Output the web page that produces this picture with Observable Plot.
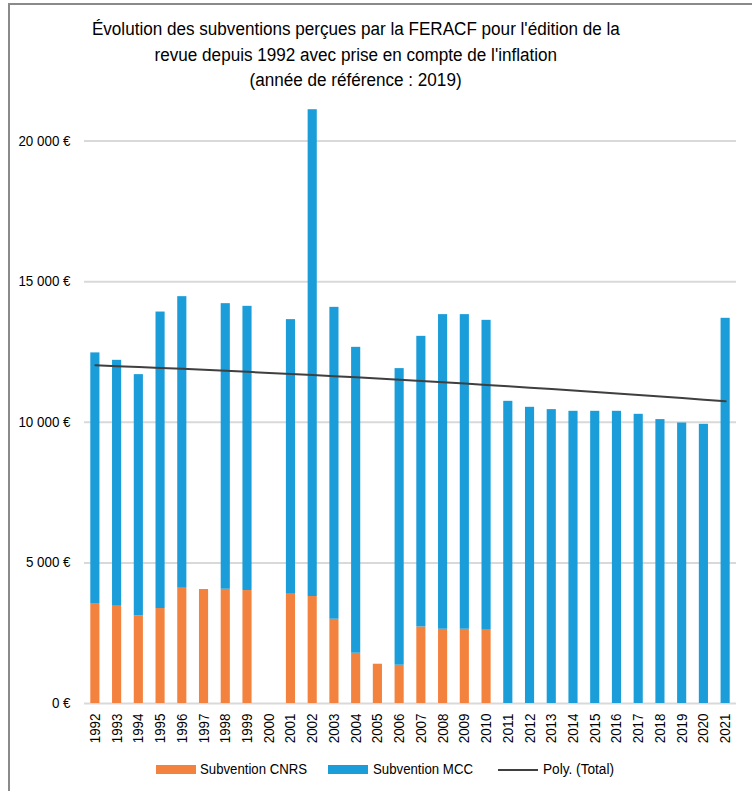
<!DOCTYPE html>
<html><head><meta charset="utf-8">
<script src="https://cdn.jsdelivr.net/npm/d3@7"></script>
<script src="https://cdn.jsdelivr.net/npm/@observablehq/plot@0.6"></script>
<style>
body{margin:0;background:#fff;}
#wrap{position:relative;width:752px;height:791px;overflow:hidden;font-family:"Liberation Sans",Arial,sans-serif;color:#000;}
#chart{position:absolute;left:0;top:0;}
#frame{position:absolute;left:8px;top:3px;width:800px;height:800px;border-top:2px solid #8a8a8a;border-left:2px solid #8a8a8a;pointer-events:none;}
#title{position:absolute;left:0;width:712px;top:17px;text-align:center;font-size:18px;line-height:25.5px;}
#title span{display:inline-block;white-space:nowrap;transform-origin:50% 50%;}
.lg{position:absolute;top:761px;font-size:14px;line-height:17px;white-space:nowrap;transform-origin:0 50%;}
.sw{position:absolute;}
</style></head>
<body>
<div id="wrap">
  <div id="chart"></div>
  <div id="frame"></div>
  <div id="title"><span>Évolution des subventions perçues par la FERACF pour l'édition de la</span><br><span>revue depuis 1992 avec prise en compte de l'inflation</span><br><span>(année de référence : 2019)</span></div>
  <div id="legend"></div>
</div>
<script>
const years = ["1992","1993","1994","1995","1996","1997","1998","1999","2000","2001","2002","2003","2004","2005","2006","2007","2008","2009","2010","2011","2012","2013","2014","2015","2016","2017","2018","2019","2020","2021"];
const cnrs = [3555,3459,3114,3377,4099,4053,4063,4017,0,3886,3804,2997,1788,1397,1362,2723,2641,2641,2606,0,0,0,0,0,0,0,0,0,0,0];
const mcc  = [8913,8745,8581,10544,10369,0,10156,10107,0,9765,17312,11091,10878,0,10547,10334,11188,11188,11020,10746,10533,10451,10391,10391,10391,10284,10096,9975,9929,13698];
const trend = [12027,11997,11965,11933,11900,11866,11830,11794,11757,11719,11679,11639,11598,11556,11513,11468,11423,11377,11330,11282,11233,11182,11131,11079,11026,10972,10917,10861,10804,10746];
const yTicks = [0,5000,10000,15000,20000];
const seriesNames = ["Subvention CNRS","Subvention MCC"];
const seriesColors = ["#f4823f","#1a9dd9"];
const trendName = "Poly. (Total)";
const trendColor = "#3f3f3f";

const rows = [];
years.forEach((y,i)=>{
  rows.push({year:y, serie:seriesNames[0], value:cnrs[i]});
  rows.push({year:y, serie:seriesNames[1], value:mcc[i]});
});
const trendRows = years.map((y,i)=>({year:y, value:trend[i]}));
const fmt = d => d3.format(",")(d).replace(/,/g," ") + " €";

const chart = Plot.plot({
  width:752, height:791,
  marginLeft:84, marginRight:16, marginTop:0, marginBottom:88,
  style:{fontFamily:'"DejaVu Sans Condensed",sans-serif', fontSize:"13px", color:"#000", background:"transparent"},
  x:{domain:years, paddingInner:0.58, paddingOuter:0.29, round:false, label:null},
  y:{domain:[0,25000], label:null},
  color:{domain:seriesNames, range:seriesColors},
  marks:[
    Plot.gridY(yTicks, {stroke:"#d9d9d9", strokeOpacity:1, strokeWidth:2}),
    Plot.axisY({ticks:yTicks, tickFormat:fmt, tickSize:0, tickPadding:14, label:null, fontSize:13}),
    Plot.axisX({tickRotate:-90, tickSize:0, tickPadding:10, label:null, fontSize:13}),
    Plot.barY(rows, {x:"year", y:"value", fill:"serie", order:seriesNames}),
    Plot.line(trendRows, {x:"year", y:"value", stroke:trendColor, strokeWidth:2})
  ]
});
document.getElementById("chart").appendChild(chart);

// Give tick labels an Arial-Narrow-like look: Arial glyphs squeezed to the condensed width
chart.querySelectorAll('g[aria-label$="tick label"] text').forEach(t=>{
  const w = t.getComputedTextLength();
  t.style.fontFamily = '"Liberation Sans",Arial,sans-serif';
  t.style.fontSize = "14px";
  t.setAttribute("textLength", w.toFixed(1));
  t.setAttribute("lengthAdjust", "spacingAndGlyphs");
});

// Title condensed to the reference width
const spans = document.querySelectorAll("#title span");
const k = 528 / spans[0].getBoundingClientRect().width;
spans.forEach(s=>{ s.style.transform = `scaleX(${k})`; });

const lg = document.getElementById("legend");
const items = [
  {name:seriesNames[0], color:seriesColors[0], type:"rect", sx:156, tx:200, tw:107},
  {name:seriesNames[1], color:seriesColors[1], type:"rect", sx:328, tx:373, tw:100},
  {name:trendName, color:trendColor, type:"line", sx:498, tx:543, tw:71}
];
items.forEach(it=>{
  const s = document.createElement("div");
  s.className="sw";
  if(it.type==="rect"){
    s.style.cssText=`left:${it.sx}px;top:765px;width:40px;height:9px;background:${it.color};`;
  } else {
    s.style.cssText=`left:${it.sx}px;top:769px;width:40px;height:2px;background:${it.color};`;
  }
  lg.appendChild(s);
  const t = document.createElement("div");
  t.className="lg";
  t.style.left = it.tx+"px";
  t.textContent = it.name;
  lg.appendChild(t);
  const w = t.getBoundingClientRect().width;
  t.style.transform = `scaleX(${it.tw / w})`;
});
</script>
</body></html>
